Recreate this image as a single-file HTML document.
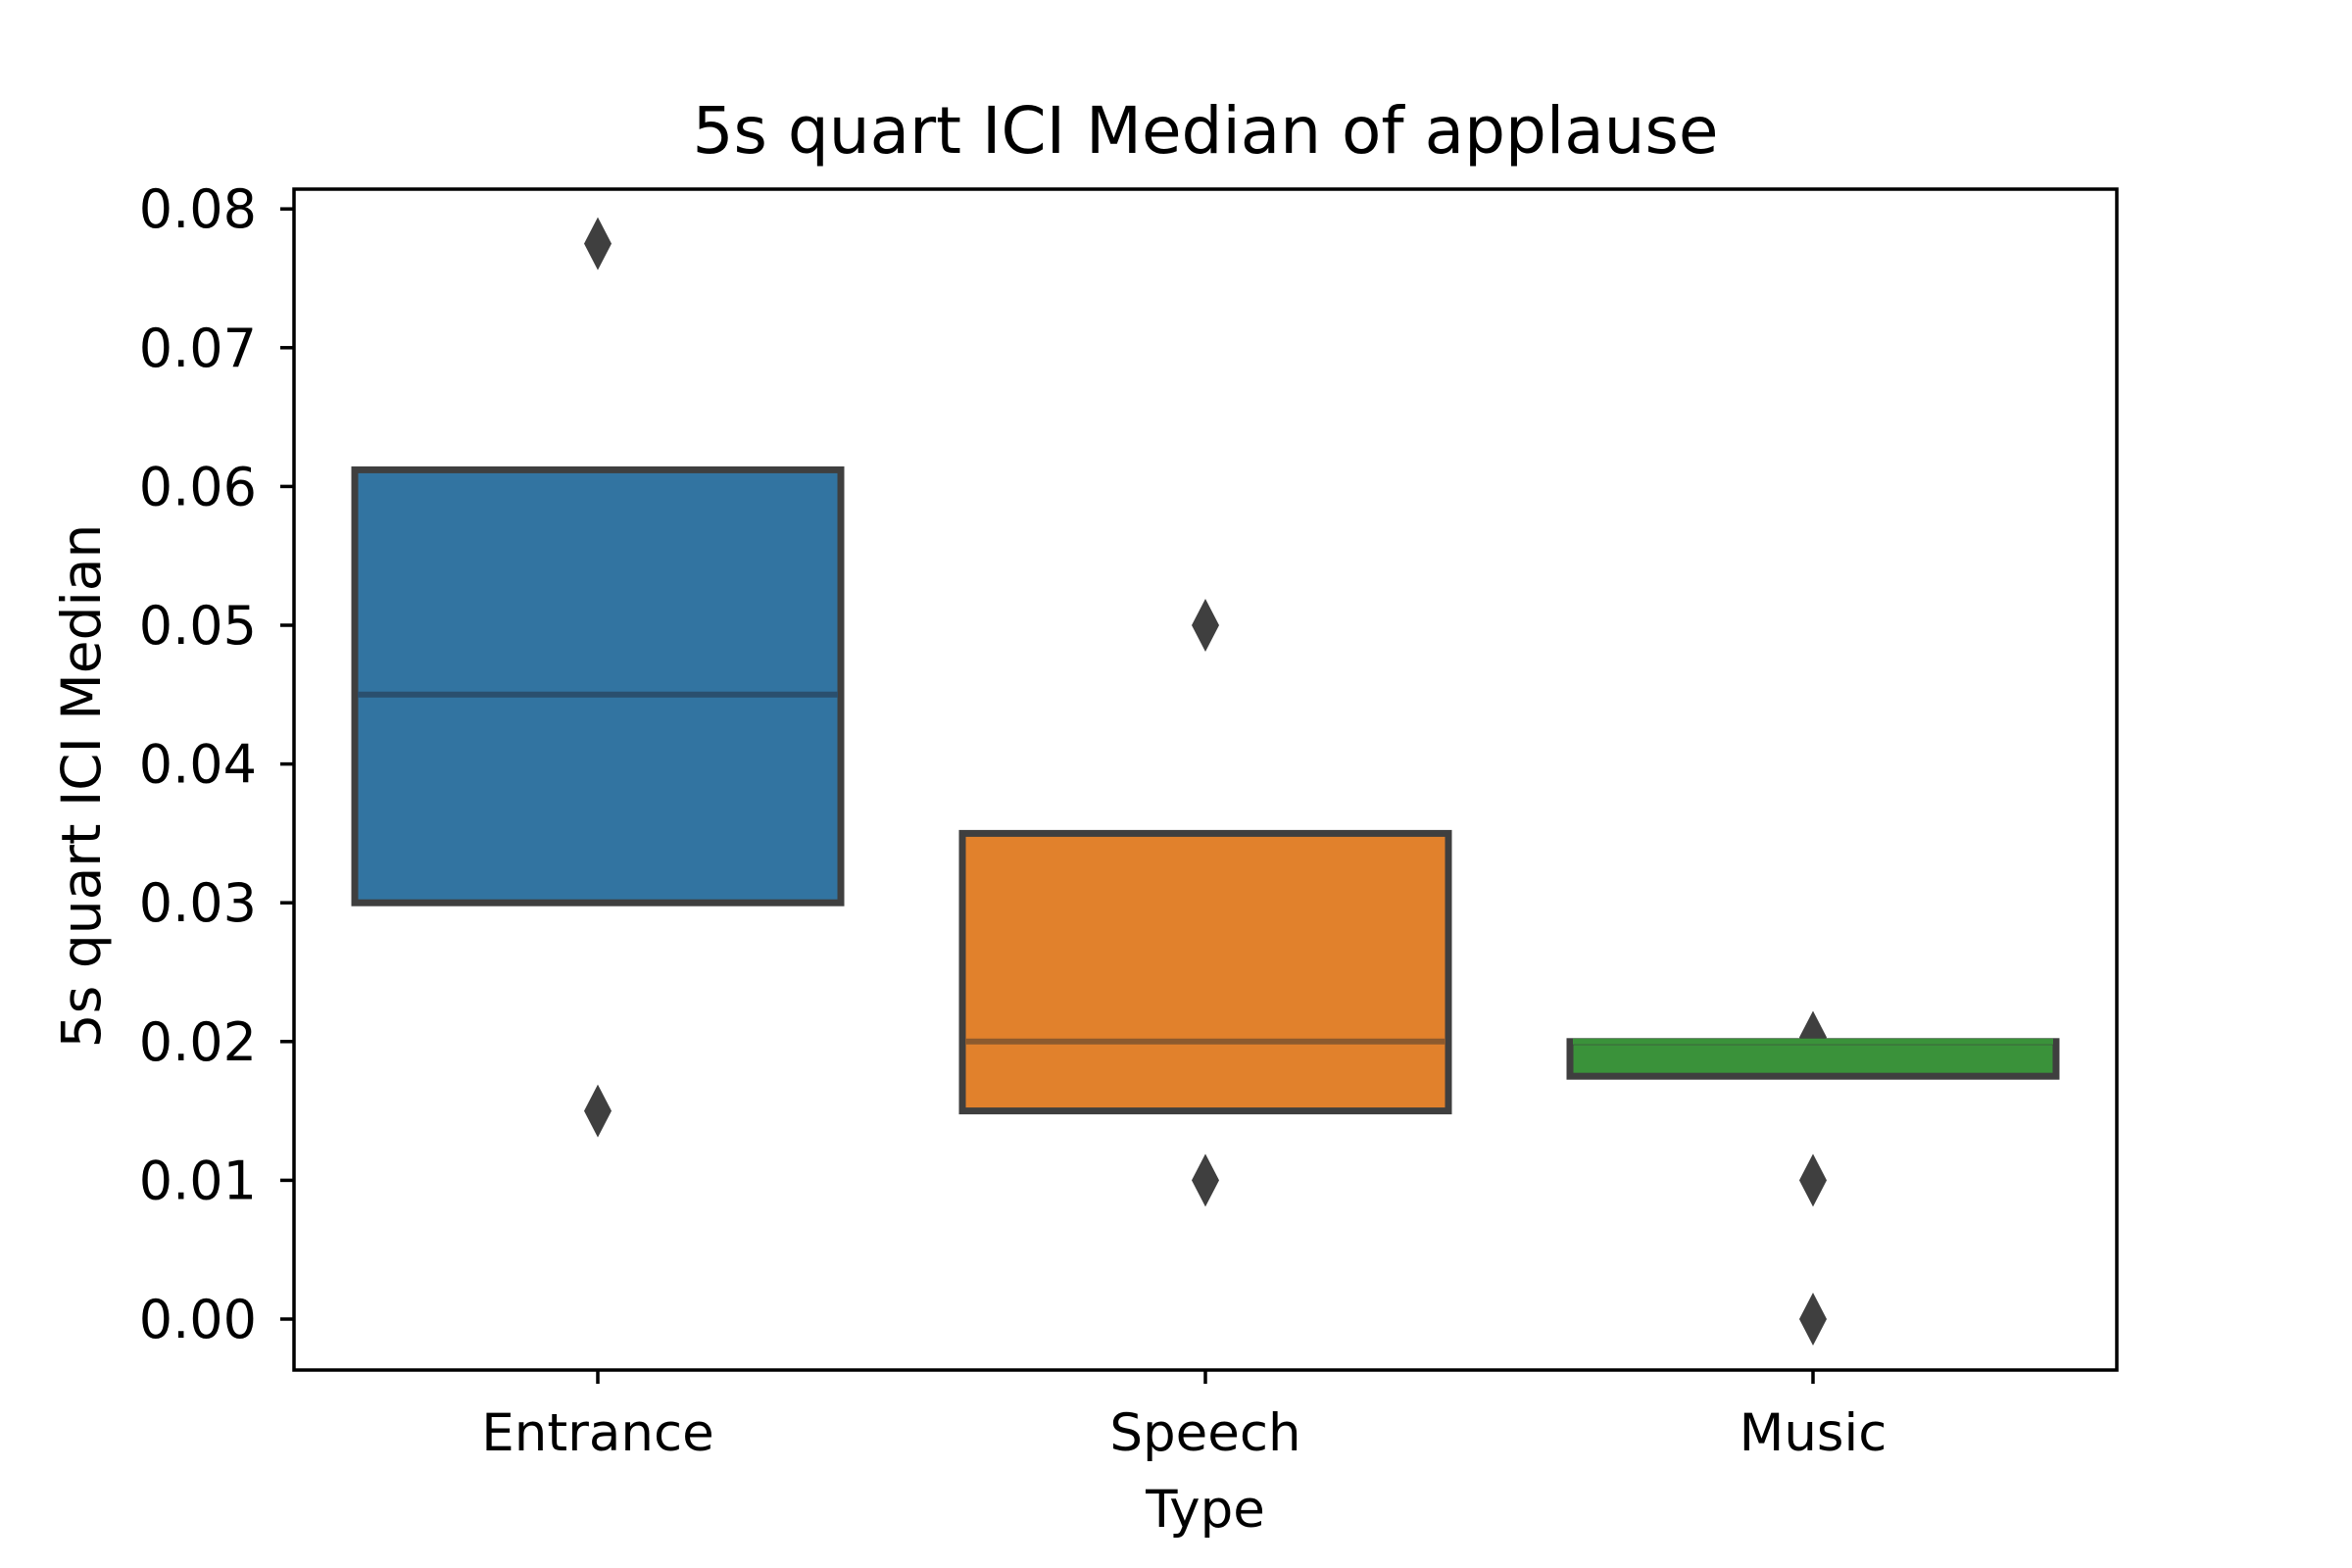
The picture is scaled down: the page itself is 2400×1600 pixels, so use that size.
<!DOCTYPE html>
<html><head><meta charset="utf-8"><style>body{margin:0;background:#fff}svg{display:block;font-family:"DejaVu Sans","Liberation Sans",sans-serif}</style></head>
<body>
<svg id="chart" width="2400" height="1600" viewBox="0 0 2400 1600">
<rect width="2400" height="1600" fill="#fff"/>
<text x="1230" y="156" text-anchor="middle" font-size="66" fill="#000">5s quart ICI Median of applause</text>
<g id="marks"></g>
<rect x="300" y="193" width="1860" height="1205" fill="none" stroke="#000" stroke-width="3.5"/>
<g id="axes"></g>
<text x="1230" y="1558" text-anchor="middle" font-size="53">Type</text>
<text transform="translate(102,802) rotate(-90)" text-anchor="middle" font-size="55">5s quart ICI Median</text>
</svg>
<script>
const categories = ["Entrance","Speech","Music"];
const q1 = [0.030, 0.015, 0.0175];
const q3 = [0.0612, 0.035, 0.020];
const medians = [0.045, 0.020, 0.020];
const outliers = [[0.0775, 0.015],[0.050, 0.010],[0.0203, 0.010, 0.000]];
const colors = ["#3274a1","#e1812c","#3a923a"];
const medColors = ["#2a4f6e","#8c5a2e","#3a923a"];
const yTicks = [0,0.01,0.02,0.03,0.04,0.05,0.06,0.07,0.08];
const yTickLabels = ["0.00","0.01","0.02","0.03","0.04","0.05","0.06","0.07","0.08"];

const NS="http://www.w3.org/2000/svg";
const L=300,R=2160,T=193,B=1398;
const y=v=>1346-v*14160;
const step=(R-L)/categories.length;
const x=i=>L+step*(i+0.5);
const bw=step*0.8;
function mk(tag,attrs,parent){const e=document.createElementNS(NS,tag);for(const k in attrs)e.setAttribute(k,attrs[k]);parent.appendChild(e);return e;}
const marks=document.getElementById('marks'),axes=document.getElementById('axes');
categories.forEach((c,i)=>{
  outliers[i].forEach(v=>{
    const cx=x(i),cy=y(v);
    const d=mk('path',{d:`M${cx},${cy-27} L${cx+14},${cy} L${cx},${cy+27} L${cx-14},${cy} Z`,fill:'#3f3f3f'},marks);
    
    
  });
  const b=mk('rect',{x:x(i)-bw/2,y:y(q3[i]),width:bw,height:y(q1[i])-y(q3[i]),fill:colors[i],stroke:'#3f3f3f','stroke-width':7},marks);
  
  
  const m=mk('line',{x1:x(i)-bw/2+3,x2:x(i)+bw/2-3,y1:y(medians[i]),y2:y(medians[i]),stroke:medColors[i],'stroke-width':6},marks);
  
  
  mk('line',{x1:x(i),x2:x(i),y1:B,y2:B+14,stroke:'#000','stroke-width':3.5},axes);
  const t=mk('text',{x:x(i),y:B+82,'text-anchor':'middle','font-size':53},axes);
  t.textContent=c;
  
  
});
yTicks.forEach((v,k)=>{
  mk('line',{x1:L-14,x2:L,y1:y(v),y2:y(v),stroke:'#000','stroke-width':3.5},axes);
  const t=mk('text',{x:L-38,y:y(v)+19,'text-anchor':'end','font-size':54},axes);
  t.textContent=yTickLabels[k];
  
  
});
</script>
</body></html>
